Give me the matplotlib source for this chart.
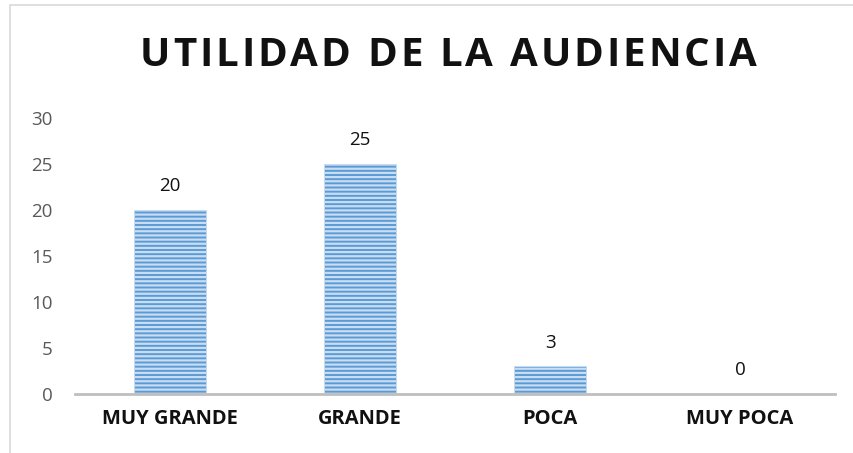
import matplotlib.pyplot as plt
from matplotlib.patches import Rectangle

categorias = ['MUY GRANDE', 'GRANDE', 'POCA', 'MUY POCA']
valores = [20, 25, 3, 0]
ticks_y = [0, 5, 10, 15, 20, 25, 30]
titulo = 'UTILIDAD DE LA AUDIENCIA'

plt.rcParams['font.family'] = ['Open Sans', 'DejaVu Sans']
plt.rcParams['hatch.linewidth'] = 1.6
plt.rcParams['hatch.color'] = '#C9DDF2'

fig = plt.figure(figsize=(8.54, 4.53), dpi=100)
ax = fig.add_axes([0.0878, 0.1302, 0.89, 0.6093])

x = range(len(categorias))
ax.bar(x, valores, width=0.38, color='#5B9BD5', hatch='----',
       edgecolor='#C9DDF2', linewidth=0.6)

for xi, v in zip(x, valores):
    ax.text(xi, v + 1.6, str(v), ha='center', va='bottom', fontsize=13.5, color='#111111')

ax.set_xlim(-0.5, len(categorias) - 0.5)
ax.set_ylim(0, 30)
ax.set_yticks(ticks_y)
ax.set_xticks(list(x))
ax.set_xticklabels(categorias, fontsize=14.5, fontweight='bold', color='#111111')
ax.tick_params(axis='y', length=0, labelsize=13.5, labelcolor='#595959', pad=16)
ax.tick_params(axis='x', length=0, pad=11)

for lado in ['top', 'right', 'left']:
    ax.spines[lado].set_visible(False)
ax.spines['bottom'].set_color('#BFBFBF')
ax.spines['bottom'].set_linewidth(2)

# título con espaciado entre letras
tam_titulo = 29
renderer = fig.canvas.get_renderer()
anchos = []
for c in titulo:
    if c == ' ':
        anchos.append(11)
        continue
    t = fig.text(0, 0, c, fontsize=tam_titulo, fontweight='bold')
    anchos.append(t.get_window_extent(renderer).width)
    t.remove()
ancho_total = 617
espacio = (ancho_total - sum(anchos)) / (len(titulo) - 1)
xpos = 448 - ancho_total / 2
for c, w in zip(titulo, anchos):
    if c != ' ':
        fig.text(xpos / 854, 1 - 55 / 453, c, ha='left', va='center',
                 fontsize=tam_titulo, fontweight='bold', color='#111111')
    xpos += w + espacio

# marco del gráfico
fig.add_artist(Rectangle((10 / 854, -0.1), 1.2, 1.1 - 5 / 453, transform=fig.transFigure,
                         fill=False, edgecolor='#D9D9D9', linewidth=1.2))

fig.savefig('out.png', dpi=100)
